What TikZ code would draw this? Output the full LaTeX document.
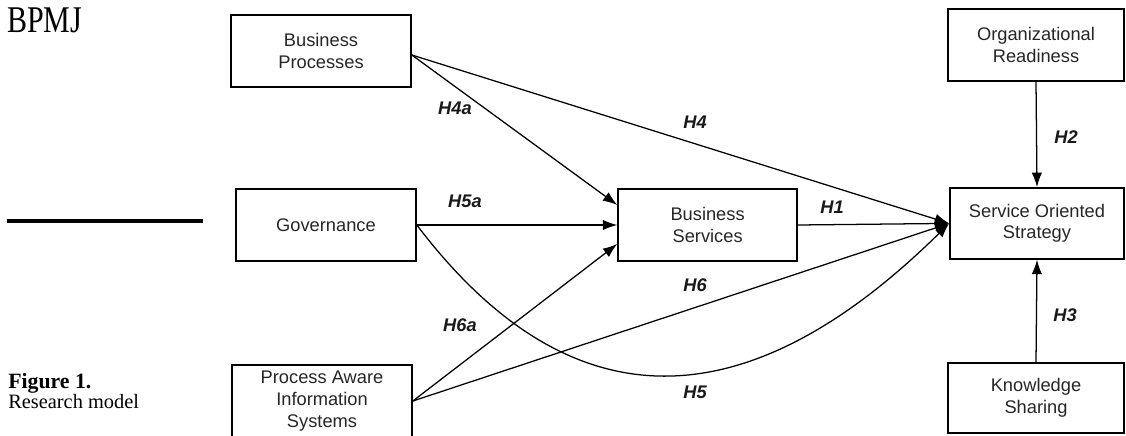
\documentclass[tikz,border=0pt]{standalone}
\usepackage{fontspec}
\setmainfont{Liberation Serif}
\setsansfont{Liberation Sans}
\usepackage{xcolor}
\usepackage{tikz}
\usetikzlibrary{calc}
\usetikzlibrary{arrows.meta,positioning}
\begin{document}
\begin{tikzpicture}[transform shape,scale=1,
	box/.style={draw,line width=1.2pt,align=center,inner sep=0pt,minimum width=4.5cm,minimum height=1.8cm,
		font=\sffamily\fontsize{13}{15.4}\selectfont,text=black!85},
	hyp/.style={font=\sffamily\bfseries\itshape\fontsize{13}{15}\selectfont,text=black!90,inner sep=0pt},
	arr/.style={line width=0.9pt,-{Latex[length=3.6mm,width=2.6mm]}}]
	\useasboundingbox (0,0) rectangle (28.15,10.875);
	\node[anchor=base west,inner sep=0pt,xscale=0.97,yscale=1.22,font=\fontsize{22}{24}\selectfont] (journal) at (0.175,10.05) {BPMJ};
	\draw[line width=2.8pt] (0.175,5.35) -- (5.075,5.35);
	\node[anchor=base west,inner sep=0pt,font=\bfseries\fontsize{15.5}{17}\selectfont] (fig) at (0.2,1.175) {Figure 1.};
	\node[anchor=base west,inner sep=0pt,font=\fontsize{14.5}{16}\selectfont] (caption) at (0.2,0.675) {Research model};
	\node[box] (BP) at (8.025,9.6) {Business\\Processes};
	\node[box] (Gov) at (8.15,5.25) {Governance};
	\node[box] (PAIS) at (8.05,0.85) {Process Aware\\Information\\Systems};
	\node[box,minimum width=4.475cm] (BS) at (17.69,5.25) {Business\\Services};
	\node[box,minimum width=4.35cm,minimum height=1.775cm] (SOS) at (25.925,5.29) {Service Oriented\\Strategy};
	\node[box,minimum width=4.4cm] (OR) at (25.9,9.75) {Organizational\\Readiness};
	\node[box,minimum width=4.4cm,minimum height=1.75cm] (KS) at (25.9,0.925) {Knowledge\\Sharing};
	\draw[arr] ([yshift=-0.1cm]BP.east) -- (SOS.west);
	\draw[arr] ([yshift=-0.1cm]BP.east) -- ([yshift=0.5cm]BS.west);
	\draw[arr] (Gov.east) -- (BS.west);
	\draw[arr] (Gov.east) .. controls (14.5,-0.125) and (19.0,0.625) .. (SOS.west);
	\draw[arr] (PAIS.east) -- ([yshift=-0.475cm]BS.west);
	\draw[arr] (PAIS.east) -- (SOS.west);
	\draw[arr] (BS.east) -- (SOS.west);
	\draw[arr] (OR.south) -- (SOS.north);
	\draw[arr] (KS.north) -- (SOS.south);
	\node[hyp] (h4a) at (11.375,8.175) {H4a};
	\node[hyp] (h4) at (17.375,7.825) {H4};
	\node[hyp] (h2) at (26.65,7.45) {H2};
	\node[hyp] (h5a) at (11.625,5.85) {H5a};
	\node[hyp] (h1) at (20.8,5.7) {H1};
	\node[hyp] (h6) at (17.375,3.75) {H6};
	\node[hyp] (h6a) at (11.5,2.75) {H6a};
	\node[hyp] (h3) at (26.625,3.0) {H3};
	\node[hyp] (h5) at (17.375,1.075) {H5};
\end{tikzpicture}
\end{document}
